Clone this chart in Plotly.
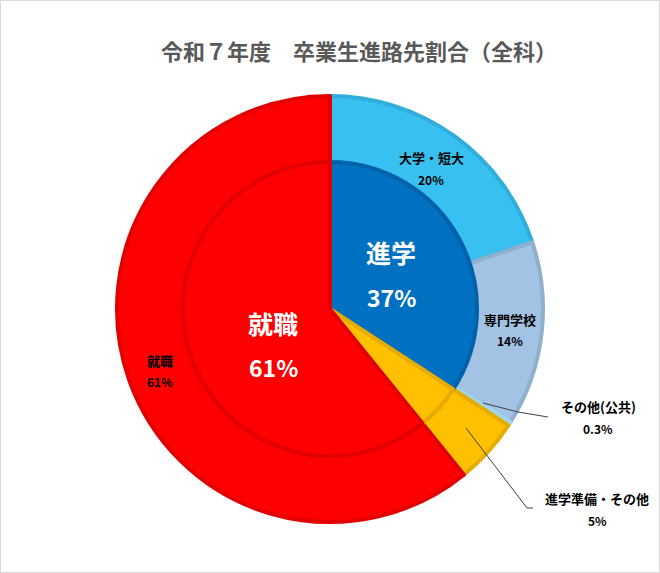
import plotly.graph_objects as go

# ---- data ----
outer_labels = ["大学・短大", "専門学校", "その他(公共)", "進学準備・その他", "就職"]
outer_values = [20, 14, 0.3, 5, 61]
outer_text = ["20%", "14%", "0.3%", "5%", "61%"]
outer_colors = ["#38C1F0", "#A2C3E3", "#B4E6F6", "#FFC000", "#FF0000"]
outer_lines = ["#2FAEDC", "#8FAFCF", "#9FD6EA", "#E6AC00", "#E30000"]

inner_labels = ["進学", "進学準備・その他", "就職"]
inner_values = [34.3, 5, 61]
inner_text = ["37%", "5%", "61%"]
inner_colors = ["#0070C0", "#FFC000", "#FF0000"]
inner_lines = ["#0062AA", "#E6AC00", "#E30000"]

title_text = "令和７年度　卒業生進路先割合（全科）"

W, H = 660, 573
cx, cy = 330, 309
R_out, R_in = 213, 147

def px_dom(r):
    return dict(x=[(cx - r) / W, (cx + r) / W], y=[(H - cy - r) / H, (H - cy + r) / H])

fig = go.Figure()
fig.add_trace(go.Pie(
    labels=outer_labels, values=outer_values, hole=R_in / R_out,
    sort=False, direction="clockwise", rotation=0,
    marker=dict(colors=outer_colors, line=dict(color=outer_lines, width=4)),
    textinfo="none", hoverinfo="label+percent", showlegend=False,
    domain=px_dom(R_out),
))
fig.add_trace(go.Pie(
    labels=inner_labels, values=inner_values,
    sort=False, direction="clockwise", rotation=0,
    marker=dict(colors=inner_colors, line=dict(color=inner_lines, width=4)),
    textinfo="none", hoverinfo="label+percent", showlegend=False,
    domain=px_dom(R_in),
))

font_cjk = "Noto Sans CJK JP, Noto Sans, sans-serif"

def ann(text, x, y, size, color="#000000"):
    return dict(text="<b>%s</b>" % text, x=x / W, y=1 - y / H, xref="paper", yref="paper",
                showarrow=False, xanchor="center", yanchor="middle",
                font=dict(family=font_cjk, size=size, color=color))

annotations = []
outer_pos = [(431, 157, 179), (510, 319, 340), (598, 406, 428), (597, 498, 520), (160, 360, 381)]
for lab, txt, (x, y1, y2) in zip(outer_labels, outer_text, outer_pos):
    annotations.append(ann(lab, x, y1, 13))
    annotations.append(ann(txt, x, y2, 12))

inner_pos = {0: (391, 252, 297), 2: (273, 323, 367)}
for i, (x, y1, y2) in inner_pos.items():
    annotations.append(ann(inner_labels[i], x, y1, 25, "#FFFFFF"))
    annotations.append(ann(inner_text[i], x, y2, 23, "#FFFFFF"))

annotations.append(dict(text="<b>%s</b>" % title_text, x=359 / W, y=1 - 50 / H,
                        xref="paper", yref="paper", showarrow=False,
                        xanchor="center", yanchor="middle",
                        font=dict(family=font_cjk, size=22, color="#595959")))

def P(x, y):
    return "%f,%f" % (x / W, 1 - y / H)

def leader(pts):
    path = "M" + P(*pts[0]) + "".join(" L" + P(*p) for p in pts[1:])
    return dict(type="path", xref="paper", yref="paper", path=path,
                line=dict(color="#404040", width=1))

shapes = [
    leader([(483, 403), (518, 412), (548, 417)]),
    leader([(466, 428), (527, 508), (533, 508)]),
    dict(type="rect", xref="paper", yref="paper", x0=0.5 / W, y0=0.5 / H, x1=1 - 0.5 / W, y1=1 - 0.5 / H,
         line=dict(color="#D9D9D9", width=1)),
]

fig.update_layout(
    width=W, height=H, margin=dict(l=0, r=0, t=0, b=0),
    paper_bgcolor="#FFFFFF", plot_bgcolor="#FFFFFF",
    annotations=annotations, shapes=shapes,
)

fig.write_html("out.html")
